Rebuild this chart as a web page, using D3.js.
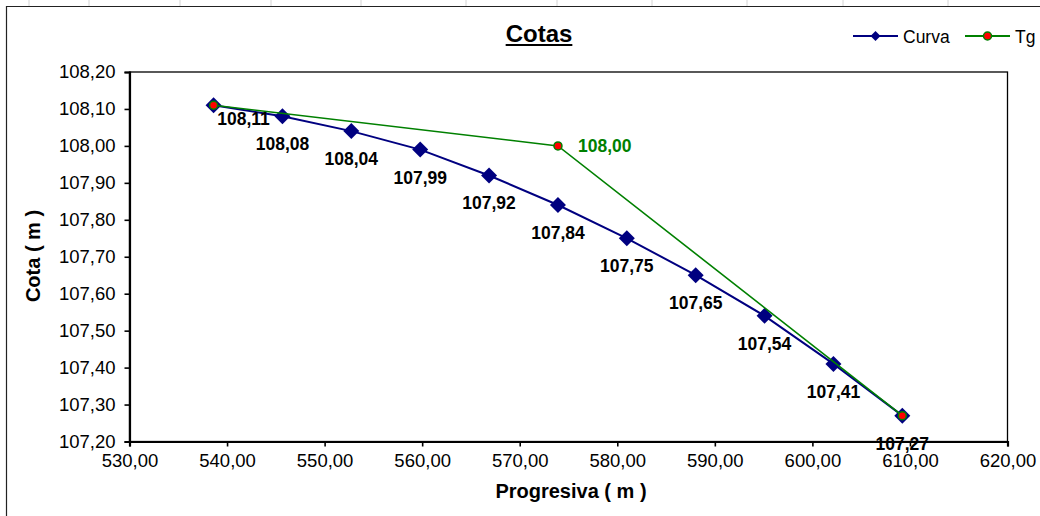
<!DOCTYPE html>
<html>
<head>
<meta charset="utf-8">
<script src="https://cdn.jsdelivr.net/npm/d3@7/dist/d3.min.js"></script>
<style>
  html, body { margin: 0; padding: 0; background: #fff; }
  svg { display: block; font-family: Arial, "Liberation Sans", sans-serif; }
</style>
</head>
<body>
<svg id="chart" width="1040" height="516"></svg>
<script>
// Progresiva (m) for the curve stations
const progresivaCurva = [538.62, 545.68, 552.74, 559.80, 566.86, 573.92, 580.98, 588.04, 595.10, 602.16, 609.22];
// Cota (m) along the curve
const cotaCurva = [108.11, 108.08, 108.04, 107.99, 107.92, 107.84, 107.75, 107.65, 107.54, 107.41, 107.27];
// Tangent points: PC, PI, PT
const progresivaTg = [538.62, 573.92, 609.22];
const cotaTg = [108.11, 108.00, 107.27];
// Axis ticks
const xTicks = [530, 540, 550, 560, 570, 580, 590, 600, 610, 620];
const yTicks = [107.2, 107.3, 107.4, 107.5, 107.6, 107.7, 107.8, 107.9, 108.0, 108.1, 108.2];

const svg = d3.select("#chart");
const fmt = v => d3.format(".2f")(v).replace(".", ",");

// spreadsheet column lines peeking above the chart object
const colLines = [29, 89, 180, 271, 361, 466, 557, 652, 747, 843, 948];
svg.selectAll("line.col").data(colLines).join("line")
  .attr("x1", d => d).attr("x2", d => d).attr("y1", 0).attr("y2", 6)
  .attr("stroke", "#d4d4d4").attr("stroke-width", 1);

// chart object border
svg.append("path").attr("d", "M6.5,516 V6.5 H1040")
  .attr("fill", "none").attr("stroke", "#222").attr("stroke-width", 1.2);

const plot = { left: 129.5, right: 1007.5, top: 72, bottom: 441.5 };
const x = d3.scaleLinear().domain([530, 620]).range([plot.left, plot.right]);
const y = d3.scaleLinear().domain([107.2, 108.2]).range([plot.bottom, plot.top]);

// plot frame
svg.append("rect")
  .attr("x", plot.left).attr("y", plot.top)
  .attr("width", plot.right - plot.left).attr("height", plot.bottom - plot.top)
  .attr("fill", "none").attr("stroke", "#000").attr("stroke-width", 1.3);

// axes
const xAxis = svg.append("g").attr("transform", `translate(0,${plot.bottom})`)
  .call(d3.axisBottom(x).tickValues(xTicks).tickFormat(fmt).tickSize(5).tickPadding(5));
const yAxis = svg.append("g").attr("transform", `translate(${plot.left},0)`)
  .call(d3.axisLeft(y).tickValues(yTicks).tickFormat(fmt).tickSize(5).tickPadding(9));
[xAxis, yAxis].forEach(g => {
  g.select(".domain").attr("stroke", "#000").attr("stroke-width", 2.2);
  g.selectAll(".tick line").attr("stroke", "#000").attr("stroke-width", 1.6);
  g.selectAll(".tick text").attr("fill", "#000")
    .style("font-size", "18.5px").style("font-family", "Arial, 'Liberation Sans', sans-serif");
});
xAxis.selectAll(".tick text").attr("dy", "0.85em");

// axis titles
svg.append("text").attr("x", 571).attr("y", 498).attr("text-anchor", "middle")
  .style("font-size", "20px").style("font-weight", "bold").text("Progresiva ( m )");
svg.append("text").attr("transform", "translate(40,256) rotate(-90)").attr("text-anchor", "middle")
  .style("font-size", "20px").style("font-weight", "bold").text("Cota ( m )");

// title
const title = svg.append("text").attr("x", 539).attr("y", 42).attr("text-anchor", "middle")
  .style("font-size", "24px").style("font-weight", "bold").text("Cotas");
const tb = title.node().getBBox();
svg.append("line").attr("x1", tb.x).attr("x2", tb.x + tb.width)
  .attr("y1", 45).attr("y2", 45).attr("stroke", "#000").attr("stroke-width", 2);

// series
const curva = progresivaCurva.map((p, i) => ({ p, c: cotaCurva[i] }));
const tg = progresivaTg.map((p, i) => ({ p, c: cotaTg[i] }));
const line = d3.line().x(d => x(d.p)).y(d => y(d.c));

svg.append("path").datum(curva).attr("d", line)
  .attr("fill", "none").attr("stroke", "#000080").attr("stroke-width", 2);

const diamond = r => `M0,${-r} L${r},0 L0,${r} L${-r},0 Z`;
svg.selectAll("path.dm").data(curva).join("path")
  .attr("transform", d => `translate(${x(d.p)},${y(d.c)})`)
  .attr("d", diamond(8)).attr("fill", "#000080");

svg.append("path").datum(tg).attr("d", line)
  .attr("fill", "none").attr("stroke", "#008000").attr("stroke-width", 1.6);
svg.selectAll("circle.tg").data(tg).join("circle")
  .attr("cx", d => x(d.p)).attr("cy", d => y(d.c)).attr("r", 4)
  .attr("fill", "#ff0000").attr("stroke", "#008000").attr("stroke-width", 1.5);

// data labels below curve points
svg.selectAll("text.lbl").data(curva).join("text")
  .attr("x", (d, i) => x(d.p) + (i === 0 ? 30 : 0))
  .attr("y", (d, i) => y(d.c) + (i === 0 ? 20 : 34))
  .attr("text-anchor", "middle")
  .style("font-size", "17.5px").style("font-weight", "bold").attr("fill", "#000")
  .text(d => fmt(d.c));

// label for the PI elevation
svg.append("text").attr("x", x(tg[1].p) + 20).attr("y", y(tg[1].c) + 6)
  .style("font-size", "17.5px").style("font-weight", "bold").attr("fill", "#008000")
  .text(fmt(tg[1].c));

// legend
const legend = [
  { name: "Curva", color: "#000080", x: 853, marker: "diamond" },
  { name: "Tg", color: "#008000", x: 965, marker: "circle" }
];
const lg = svg.selectAll("g.leg").data(legend).join("g")
  .attr("transform", d => `translate(${d.x},36)`);
lg.append("line").attr("x1", 0).attr("x2", 45).attr("y1", 0).attr("y2", 0)
  .attr("stroke", d => d.color).attr("stroke-width", 2);
lg.each(function (d) {
  const g = d3.select(this);
  if (d.marker === "diamond") {
    g.append("path").attr("transform", "translate(22.5,0)").attr("d", diamond(5)).attr("fill", "#000080");
  } else {
    g.append("circle").attr("cx", 22.5).attr("cy", 0).attr("r", 4)
      .attr("fill", "#ff0000").attr("stroke", "#008000").attr("stroke-width", 1.5);
  }
});
lg.append("text").attr("x", 50).attr("y", 6.5)
  .style("font-size", "17.5px").attr("fill", "#000").text(d => d.name);
</script>
</body>
</html>
